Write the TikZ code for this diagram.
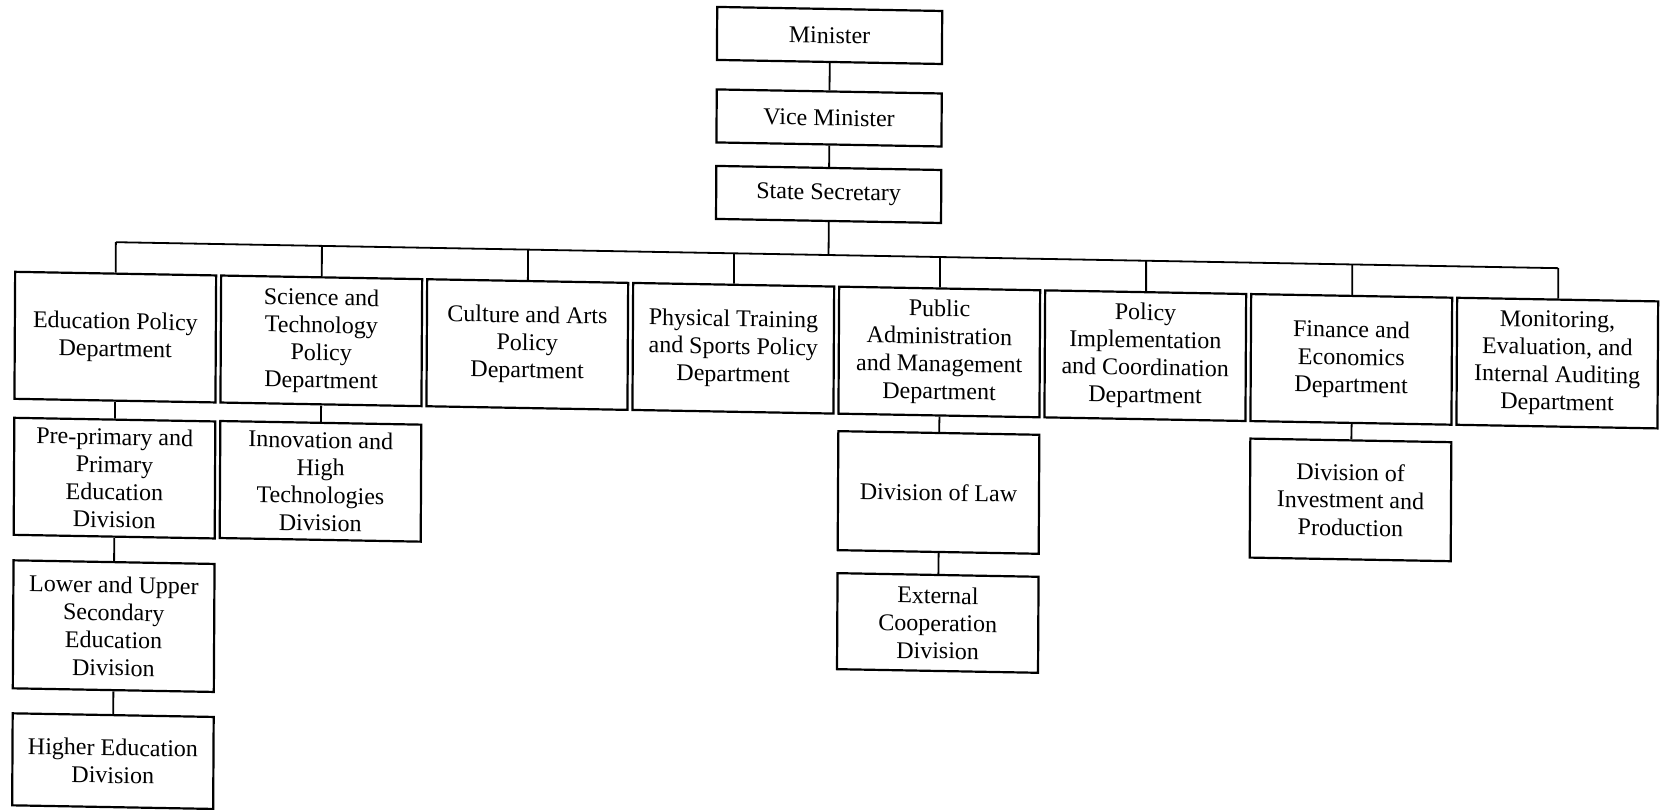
\documentclass[tikz,border=0pt]{standalone}
\usepackage{fontspec}
\setmainfont{Liberation Serif}
\begin{document}
\begin{tikzpicture}[x=0.5pt,y=-0.5pt,
  box/.style={draw=black, line width=1.1pt, align=center, inner sep=2pt,
    font=\fontsize{12}{13.8}\selectfont, minimum width=100.5pt},
  topbox/.style={box, minimum width=112.5pt, minimum height=26.5pt},
  dept/.style={box, minimum height=63.5pt},
  link/.style={line width=0.9pt}]
\useasboundingbox (0,0) rectangle (1660,809);
\begin{scope}[shift={(830,404)}]
\begin{scope}[cm={1,-0.018,0.0056,1,(0,0)}, transform shape]
\begin{scope}[shift={(-830,-404)}]
% top chain
\node[topbox] (min) at (827.5,35.5) {Minister};
\node[topbox] (vice) at (827.5,118) {Vice Minister};
\node[topbox] (ss) at (827.5,194.5) {State Secretary};
% departments
\node[dept] (d1) at (115,350) {Education Policy\\Department};
\node[dept] (d2) at (321,350) {Science and\\Technology\\Policy\\Department};
\node[dept] (d3) at (527,350) {Culture and Arts\\Policy\\Department};
\node[dept] (d4) at (733,350) {Physical Training\\and Sports Policy\\Department};
\node[dept] (d5) at (939,350) {Public\\Administration\\and Management\\Department};
\node[dept] (d6) at (1145,350) {Policy\\Implementation\\and Coordination\\Department};
\node[dept] (d7) at (1351,350) {Finance and\\Economics\\Department};
\node[dept] (d8) at (1557,350) {Monitoring,\\Evaluation, and\\Internal Auditing\\Department};
% divisions
\node[box, minimum height=58.5pt] (p1) at (115,491) {Pre-primary and\\Primary\\Education\\Division};
\node[box, minimum height=64pt] (p2) at (115,639) {Lower and Upper\\Secondary\\Education\\Division};
\node[box, minimum height=46pt] (p3) at (115,774) {Higher Education\\Division};
\node[box, minimum height=58.5pt] (i1) at (321,490.5) {Innovation and\\High\\Technologies\\Division};
\node[box, minimum height=59.5pt] (l1) at (939,490.5) {Division of Law};
\node[box, minimum height=48pt] (l2) at (939,621) {External\\Cooperation\\Division};
\node[box, minimum height=59.5pt] (f1) at (1351,490.5) {Division of\\Investment and\\Production};
% bus coordinates
\coordinate (bt) at (827.5,255);
\coordinate (b1) at (115,255);
\coordinate (b2) at (321,255);
\coordinate (b3) at (527,255);
\coordinate (b4) at (733,255);
\coordinate (b5) at (939,255);
\coordinate (b6) at (1145,255);
\coordinate (b7) at (1351,255);
\coordinate (b8) at (1557,255);
% connectors
\draw[link] (min) -- (vice);
\draw[link] (vice) -- (ss);
\draw[link] (ss) -- (bt);
\draw[link] (b1) -- (b8);
\draw[link] (b1) -- (d1);
\draw[link] (b2) -- (d2);
\draw[link] (b3) -- (d3);
\draw[link] (b4) -- (d4);
\draw[link] (b5) -- (d5);
\draw[link] (b6) -- (d6);
\draw[link] (b7) -- (d7);
\draw[link] (b8) -- (d8);
\draw[link] (d1) -- (p1);
\draw[link] (p1) -- (p2);
\draw[link] (p2) -- (p3);
\draw[link] (d2) -- (i1);
\draw[link] (d5) -- (l1);
\draw[link] (l1) -- (l2);
\draw[link] (d7) -- (f1);
\end{scope}
\end{scope}
\end{scope}
\end{tikzpicture}
\end{document}
